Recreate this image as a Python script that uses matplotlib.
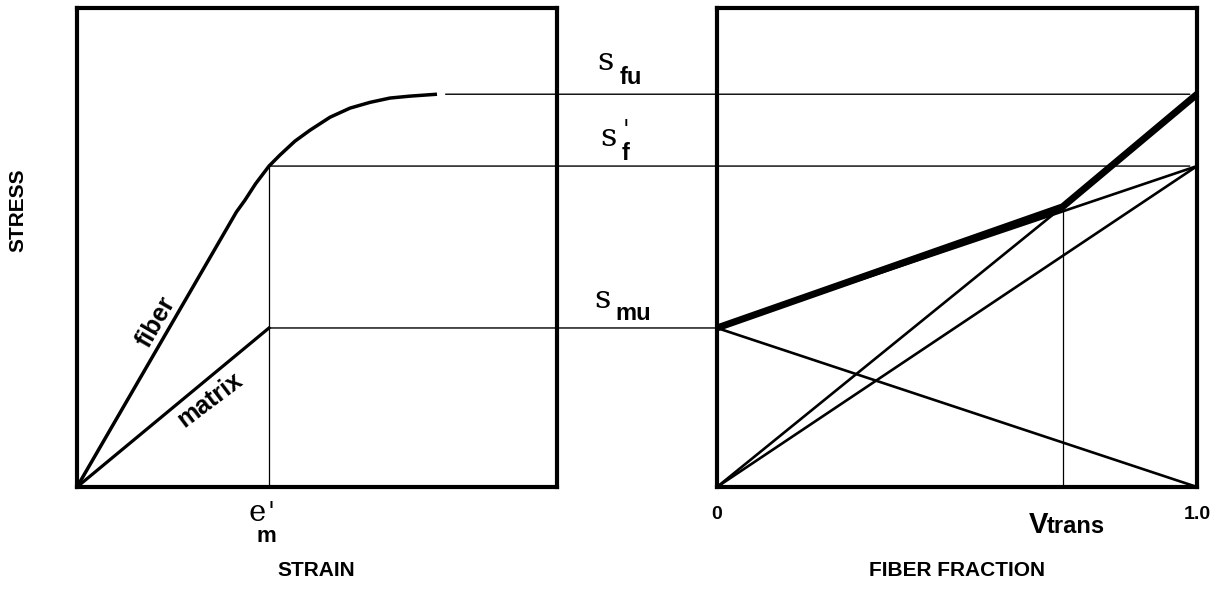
import matplotlib
matplotlib.use("Agg")
import matplotlib.pyplot as plt
from matplotlib.patches import ConnectionPatch

# ---------------- data ----------------
# left panel: stress-strain curves (strain in units of e'_m)
fiber_strain = [0.0, 0.83, 0.875, 0.93, 1.0, 1.057, 1.135, 1.214, 1.318, 1.422,
                1.526, 1.630, 1.734, 1.875]
fiber_stress = [0.0, 57.4, 59.9, 63.3, 67.0, 69.3, 72.2, 74.5, 77.2, 79.1,
                80.3, 81.2, 81.6, 82.0]
matrix_strain = [0.0, 1.0]
matrix_stress = [0.0, 33.2]
e_m_prime = 1.0

sigma_fu = 82.0
sigma_f_prime = 67.0
sigma_mu = 33.2

# right panel: strength vs fiber fraction
frac_ends = [0.0, 1.0]
V_trans = 0.72
kink_stress = 58.5
composite_frac = [0.0, V_trans, 1.0]
composite_stress = [sigma_mu, kink_stress, sigma_fu]
matrix_only = [sigma_mu, 0.0]
fiber_at_em = [0.0, sigma_f_prime]
mixed_line = [sigma_mu, sigma_f_prime]
fiber_ult_frac = [0.0, V_trans]
fiber_ult = [0.0, kink_stress]

frac_ticks = [0.0, 1.0]
frac_ticklabels = ["0", "1.0"]

# connector start/end positions (strain on left, fraction on right)
fu_start_strain, fu_end_frac = 1.92, 0.985
fp_end_frac = 0.985

# ---------------- layout ----------------
W, H = 1218, 590
fig = plt.figure(figsize=(W / 100, H / 100), dpi=100)


def fx(x):
    return x / W


def fy(y):
    return 1 - y / H


SANS = ["Liberation Sans", "DejaVu Sans"]
SERIF = ["DejaVu Serif"]

axL = fig.add_axes([fx(77), fy(487), (557 - 77) / W, (487 - 8) / H])
axR = fig.add_axes([fx(717), fy(487), (1197 - 717) / W, (487 - 8) / H])

for ax in (axL, axR):
    for s in ax.spines.values():
        s.set_linewidth(3.0)
        s.set_color("black")
    ax.set_ylim(0, 100)
    ax.set_yticks([])

axL.set_xlim(0, 2.5)
axL.set_xticks([])
axR.set_xlim(0, 1)
axR.set_xticks(frac_ticks)
axR.set_xticklabels(frac_ticklabels, fontfamily=SANS, fontweight="bold", fontsize=14)
axR.tick_params(axis="x", length=0, pad=14)

# left panel curves
axL.plot(fiber_strain, fiber_stress, color="black", lw=2.5, solid_capstyle="butt",
         solid_joinstyle="round", clip_on=False)
axL.plot(matrix_strain, matrix_stress, color="black", lw=2.3, clip_on=False)
axL.plot([e_m_prime, e_m_prime], [0, sigma_f_prime], color="black", lw=0.9)

# right panel lines
axR.plot(frac_ends, matrix_only, color="black", lw=1.9, clip_on=False)
axR.plot(frac_ends, fiber_at_em, color="black", lw=1.9, clip_on=False)
axR.plot(frac_ends, mixed_line, color="black", lw=1.9, clip_on=False)
axR.plot(fiber_ult_frac, fiber_ult, color="black", lw=1.9, clip_on=False)
axR.plot(composite_frac, composite_stress, color="black", lw=5.0,
         solid_capstyle="butt", solid_joinstyle="miter", clip_on=False)
axR.plot([V_trans, V_trans], [0, kink_stress], color="black", lw=0.9)

# horizontal connectors between panels
for (xa, ya, xb, yb) in [(fu_start_strain, sigma_fu, fu_end_frac, sigma_fu),
                         (e_m_prime, sigma_f_prime, fp_end_frac, sigma_f_prime),
                         (matrix_strain[-1], sigma_mu, 0.0, sigma_mu)]:
    con = ConnectionPatch(xyA=(xa, ya), coordsA=axL.transData,
                          xyB=(xb, yb), coordsB=axR.transData,
                          color="black", lw=1.0)
    fig.add_artist(con)

# ---------------- text ----------------
# axis titles
fig.text(fx(18), fy(210), "STRESS", rotation=90, ha="center", va="center",
         fontfamily=SANS, fontweight="bold", fontsize=15)
fig.text(fx(316), fy(570), "STRAIN", ha="center", va="center",
         fontfamily=SANS, fontweight="bold", fontsize=15)
fig.text(fx(957), fy(570), "FIBER FRACTION", ha="center", va="center",
         fontfamily=SANS, fontweight="bold", fontsize=15)

# curve labels
fig.text(fx(156), fy(322), "fiber", rotation=60, ha="center", va="center",
         fontfamily=SANS, fontweight="bold", fontsize=18, rotation_mode="anchor")
fig.text(fx(210), fy(400), "matrix", rotation=37, ha="center", va="center",
         fontfamily=SANS, fontweight="bold", fontsize=18, rotation_mode="anchor")

# stress labels
fig.text(fx(605), fy(62), "s", ha="center", va="center", fontfamily=SERIF, fontsize=23)
fig.text(fx(631), fy(77), "fu", ha="center", va="center", fontfamily=SANS,
         fontweight="bold", fontsize=17)
fig.text(fx(608), fy(138), "s", ha="center", va="center", fontfamily=SERIF, fontsize=23)
fig.text(fx(626), fy(131), "'", ha="center", va="center", fontfamily=SERIF, fontsize=17)
fig.text(fx(626), fy(153), "f", ha="center", va="center", fontfamily=SANS,
         fontweight="bold", fontsize=17)
fig.text(fx(602), fy(299), "s", ha="center", va="center", fontfamily=SERIF, fontsize=23)
fig.text(fx(633), fy(313), "mu", ha="center", va="center", fontfamily=SANS,
         fontweight="bold", fontsize=17)

# e'_m label
fig.text(fx(257), fy(513), "e", ha="center", va="center", fontfamily=SERIF, fontsize=21)
fig.text(fx(271), fy(513), "'", ha="center", va="center", fontfamily=SERIF, fontsize=18)
fig.text(fx(266), fy(536), "m", ha="center", va="center", fontfamily=SANS,
         fontweight="bold", fontsize=16)

# V_trans label
fig.text(fx(1029), fy(533), "V", ha="left", va="baseline", fontfamily=SANS,
         fontweight="bold", fontsize=21)
fig.text(fx(1047), fy(533), "trans", ha="left", va="baseline", fontfamily=SANS,
         fontweight="bold", fontsize=17)

fig.savefig("out.png", dpi=100)
